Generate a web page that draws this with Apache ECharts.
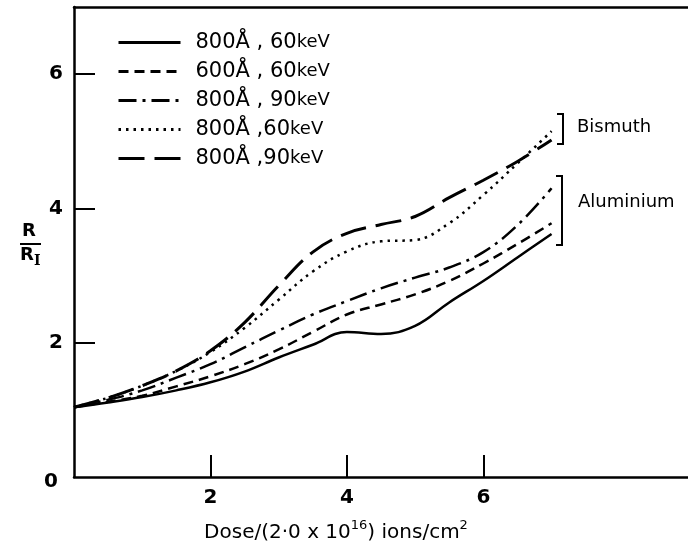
<!DOCTYPE html>
<html>
<head>
<meta charset="utf-8">
<script src="https://cdn.jsdelivr.net/npm/echarts@6/dist/echarts.min.js"></script>
<style>
html,body{margin:0;padding:0;background:#fff}
#box01{width:688px;height:549px}
</style>
</head>
<body>
<div id="box01"></div>
<script>
// dose values (units of 2.0 x 10^16 ions/cm2)
var doses = [0, 0.5, 1, 1.5, 2, 2.5, 3, 3.5, 4, 4.5, 5, 5.5, 6, 6.5, 7];

// R/R_I
var al800k60 = [1.04, 1.11, 1.19, 1.29, 1.41, 1.57, 1.78, 1.97, 2.16, 2.13, 2.25, 2.6, 2.92, 3.27, 3.62];
var al600k60 = [1.04, 1.12, 1.21, 1.35, 1.5, 1.68, 1.9, 2.16, 2.42, 2.57, 2.72, 2.92, 3.18, 3.47, 3.78];
var al800k90 = [1.04, 1.15, 1.29, 1.48, 1.68, 1.93, 2.18, 2.42, 2.62, 2.81, 2.97, 3.12, 3.35, 3.75, 4.3];
var bi800k60 = [1.04, 1.18, 1.36, 1.58, 1.86, 2.22, 2.64, 3.06, 3.36, 3.51, 3.53, 3.78, 4.2, 4.67, 5.15];
var bi800k90 = [1.04, 1.18, 1.36, 1.58, 1.88, 2.3, 2.85, 3.35, 3.63, 3.76, 3.88, 4.16, 4.42, 4.7, 5.02];

var names = ['800Å , 60keV', '600Å , 60keV', '800Å , 90keV', '800Å ,60keV', '800Å ,90keV'];
var xTicks = [2, 4, 6];
var yTicks = [2, 4, 6];
var yLabels = [0, 2, 4, 6];

var FONT = '"DejaVu Sans"';

function pairs(vals) {
    var out = [];
    for (var i = 0; i < doses.length; i++) {
        out.push([doses[i], vals[i]]);
    }
    return out;
}

function line(name, vals, type, width) {
    return {
        name: name,
        type: 'line',
        data: pairs(vals),
        smooth: 0.4,
        symbol: 'none',
        lineStyle: {color: '#000', width: width, type: type, cap: 'butt'},
        itemStyle: {color: '#000'},
        z: 3
    };
}

var myChart = echarts.init(document.getElementById('box01'));

var option = {
    backgroundColor: '#fff',
    animation: false,
    grid: {left: 74, right: 0, top: 7, bottom: 72, containLabel: false},
    legend: {
        orient: 'vertical',
        left: 117,
        top: 32,
        padding: 0,
        itemWidth: 62,
        itemHeight: 14,
        itemGap: 8,
        data: names,
        itemStyle: {opacity: 0},
        lineStyle: {width: 3},
        formatter: function (name) {
            var i = name.indexOf('keV');
            return '{t|' + name.slice(0, i) + '}{k|keV}';
        },
        textStyle: {
            padding: [0, 0, 0, 10],
            rich: {
                t: {fontFamily: FONT, fontSize: 21, color: '#000', lineHeight: 20},
                k: {fontFamily: FONT, fontSize: 18, color: '#000', lineHeight: 20}
            }
        }
    },
    xAxis: [{
        type: 'value',
        min: 0,
        max: 9,
        interval: 1,
        splitLine: {show: false},
        axisLine: {onZero: false, lineStyle: {color: '#000', width: 2.5}},
        axisTick: {inside: true, length: 22, customValues: xTicks, lineStyle: {color: '#000', width: 2}},
        axisLabel: {
            customValues: xTicks,
            margin: 11,
            color: '#000',
            fontFamily: FONT,
            fontSize: 20,
            fontWeight: 'bold'
        },
        name: '{t|Dose/(2·0 x 10}{s|16}{t|) ions/cm}{s|2}',
        nameLocation: 'middle',
        nameGap: 42,
        nameTextStyle: {
            padding: [0, 90, 0, 0],
            rich: {
                t: {fontFamily: FONT, fontSize: 20, color: '#000', lineHeight: 24, verticalAlign: 'bottom'},
                s: {fontFamily: FONT, fontSize: 13, color: '#000', lineHeight: 24, verticalAlign: 'top'}
            }
        }
    }, {
        type: 'value',
        position: 'top',
        min: 0,
        max: 9,
        splitLine: {show: false},
        axisLine: {onZero: false, lineStyle: {color: '#000', width: 2.5}},
        axisTick: {show: false},
        axisLabel: {show: false}
    }],
    yAxis: {
        type: 'value',
        min: 0,
        max: 7,
        interval: 1,
        splitLine: {show: false},
        axisLine: {onZero: false, lineStyle: {color: '#000', width: 2.5}},
        axisTick: {inside: true, length: 21, customValues: yTicks, lineStyle: {color: '#000', width: 2}},
        axisLabel: {
            customValues: yLabels,
            margin: 11,
            formatter: function (v) {
                return v === 0 ? '{z|0}' : '{n|' + v + '}';
            },
            rich: {
                n: {fontFamily: FONT, fontSize: 20, fontWeight: 'bold', color: '#000'},
                z: {fontFamily: FONT, fontSize: 20, fontWeight: 'bold', color: '#000', padding: [10, 5, 0, 0]}
            }
        }
    },
    series: [
        line(names[0], al800k60, 'solid', 2.5),
        line(names[1], al600k60, [10, 6], 2.5),
        line(names[2], al800k90, [18, 6, 3, 6], 2.5),
        line(names[3], bi800k60, [2.5, 5], 2.5),
        line(names[4], bi800k90, [26, 10], 3)
    ],
    graphic: [
        // R / R_I axis title
        {type: 'text', left: 22, top: 222, style: {text: 'R', font: 'bold 18px ' + FONT, fill: '#000'}},
        {type: 'line', shape: {x1: 20, y1: 244, x2: 41, y2: 244}, style: {stroke: '#000', lineWidth: 2}},
        {type: 'text', left: 20, top: 246, style: {text: 'R', font: 'bold 18px ' + FONT, fill: '#000'}},
        {type: 'text', left: 34, top: 254, style: {text: 'I', font: 'bold 14px "DejaVu Serif"', fill: '#000'}},
        // Bismuth bracket
        {type: 'polyline', shape: {points: [[557, 114], [563, 114], [563, 144], [557, 144]]}, style: {stroke: '#000', lineWidth: 2, fill: null}},
        {type: 'text', left: 577, top: 118, style: {text: 'Bismuth', font: '18px ' + FONT, fill: '#000'}},
        // Aluminium bracket
        {type: 'polyline', shape: {points: [[556, 176], [562, 176], [562, 245], [556, 245]]}, style: {stroke: '#000', lineWidth: 2, fill: null}},
        {type: 'text', left: 578, top: 193, style: {text: 'Aluminium', font: '18px ' + FONT, fill: '#000'}}
    ]
};

myChart.setOption(option);
</script>
</body>
</html>
